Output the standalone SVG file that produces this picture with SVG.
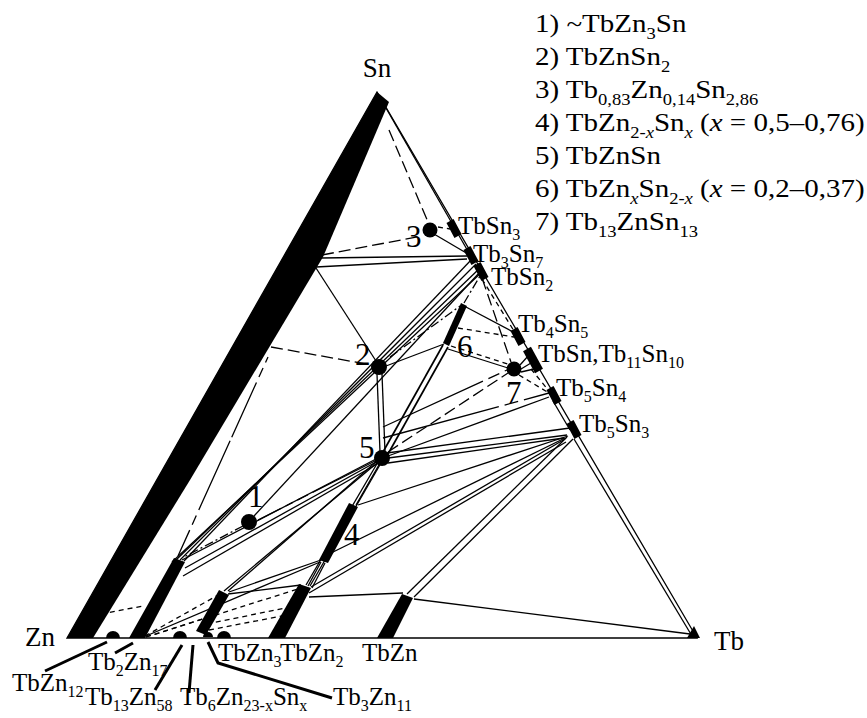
<svg xmlns="http://www.w3.org/2000/svg" width="867" height="718" viewBox="0 0 867 718" font-family="Liberation Serif, serif">
<style>
.l{stroke:#000;stroke-width:1.3;fill:none}
.w{stroke-width:1.7}
.d{stroke-dasharray:12 5}
.s{stroke-dasharray:5 4}
.dc{stroke-dasharray:9 3 2 3}
.k{stroke:#000;stroke-width:3;fill:none}
.m{stroke:#000;stroke-width:8;stroke-linecap:butt}
.b{fill:#000}
.lab{font-size:25px;font-family:Liberation Serif, serif}
.num{font-size:31px;font-family:Liberation Serif, serif}
.sub{font-size:16px}
</style>
<rect width="867" height="718" fill="#fff"/>

<g id="frame">
<polygon class="l" points="67,638 697,638 377,92"/>
<line class="l" x1="386" y1="108" x2="469" y2="253"/>
<line class="l" x1="574" y1="439" x2="692" y2="636"/>
<line class="l" x1="553" y1="401" x2="570" y2="430"/>
<line class="l s" x1="482" y1="279" x2="514" y2="331"/>
<line class="l s" x1="531" y1="369" x2="549" y2="391"/>
</g>

<g id="bands">
<polygon class="b" points="377,92 389,102 323,257 190,480 93,638 67,638"/>
<polygon class="b" points="129,638 145,638 185,562 174,558"/>
<polygon class="b" points="196,631 206,635 229,595 219,590"/>
<polygon class="b" points="268,638 285,638 311,588 299,584"/>
<polygon class="b" points="319,560 328,563 358,507 349,503"/>
<polygon class="b" points="377,638 393,638 413,598 402,594"/>
<polygon class="b" points="443,343 449,346 467,306 461,303"/>
</g>

<g id="connectors">
<line class="l d" x1="389" y1="130" x2="428" y2="222"/>
<line class="l s" x1="438" y1="227" x2="450" y2="229"/>
<line class="l" x1="434" y1="234" x2="468" y2="254"/>
<line class="l d" x1="322" y1="255" x2="422" y2="236"/>
<line class="l" x1="321" y1="258" x2="467" y2="256"/>
<line class="l" x1="316" y1="267" x2="467" y2="259"/>
<line class="l" x1="316" y1="268" x2="376" y2="361"/>
<line class="l d" x1="271" y1="347" x2="372" y2="365"/>
<line class="l" style="stroke-dasharray:6 6 10 6 60 4 70 0" x1="268" y1="357" x2="178" y2="556"/>
<line class="l" x1="172" y1="562" x2="483" y2="271"/>
<line class="l" x1="176" y1="560" x2="480" y2="268"/>
<line class="l" x1="180" y1="560" x2="476" y2="264"/>
<line class="l" x1="184" y1="561" x2="472" y2="259"/>
<line class="l" x1="254" y1="516" x2="480" y2="272"/>
<line class="l dc" x1="390" y1="357" x2="460" y2="306"/>
<line class="l dc" x1="464" y1="303" x2="480" y2="276"/>
<line class="l" x1="386" y1="366" x2="444" y2="344"/>
<line class="l" x1="377" y1="374" x2="380" y2="452"/>
<line class="l" x1="382" y1="374" x2="385" y2="452"/>
<line class="l w" x1="383" y1="452" x2="443" y2="345"/>
<line class="l w" x1="388" y1="454" x2="448" y2="347"/>
<line class="l" x1="466" y1="307" x2="515" y2="333"/>
<line class="l s" x1="458" y1="328" x2="514" y2="337"/>
<line class="l s" x1="451" y1="346" x2="508" y2="364"/>
<line class="l" x1="448" y1="349" x2="508" y2="368"/>
<line class="l d" x1="482" y1="278" x2="511" y2="362"/>
<line class="l" x1="520" y1="365" x2="529" y2="355"/>
<line class="l" x1="521" y1="369" x2="531" y2="363"/>
<line class="l" x1="521" y1="372" x2="534" y2="369"/>
<line class="l s" x1="519" y1="375" x2="549" y2="393"/>
<line class="l d" x1="388" y1="452" x2="508" y2="373"/>
<line class="l" style="stroke-dasharray:110 6 12 6 40 0" x1="383" y1="427" x2="507" y2="370"/>
<line class="l" style="stroke-dasharray:120 6 14 6 40 0" x1="383" y1="438" x2="549" y2="393"/>
<line class="l" x1="388" y1="456" x2="549" y2="397"/>
<line class="l" x1="387" y1="453" x2="570" y2="428"/>
<line class="l" x1="388" y1="458" x2="567" y2="435"/>
<line class="l" x1="388" y1="463" x2="564" y2="438"/>
<line class="l" x1="380" y1="463" x2="356" y2="505"/>
<line class="l" x1="378" y1="462" x2="306" y2="585"/>
<line class="l" x1="381" y1="463" x2="310" y2="586"/>
<line class="l" x1="377" y1="461" x2="228" y2="591"/>
<line class="l" x1="377" y1="463" x2="224" y2="591"/>
<line class="l" x1="376" y1="459" x2="182" y2="560"/>
<line class="l" x1="376" y1="462" x2="185" y2="568"/>
<line class="l" x1="377" y1="464" x2="183" y2="576"/>
<line class="l" style="stroke-dasharray:70 5 12 5 8 5 30 0" x1="375" y1="461" x2="258" y2="520"/>
<line class="l dc" x1="243" y1="526" x2="184" y2="557"/>
<line class="l" x1="568" y1="436" x2="358" y2="505"/>
<line class="l" x1="565" y1="438" x2="329" y2="554"/>
<line class="l" x1="565" y1="439" x2="311" y2="587"/>
<line class="l" x1="566" y1="442" x2="309" y2="593"/>
<line class="l" x1="567" y1="437" x2="407" y2="594"/>
<line class="l" x1="573" y1="439" x2="414" y2="597"/>
<line class="l" x1="414" y1="599" x2="690" y2="634"/>
<line class="l" x1="309" y1="597" x2="403" y2="593"/>
<line class="l" x1="308" y1="586" x2="321" y2="562"/>
<line class="l" x1="312" y1="588" x2="325" y2="563"/>
<line class="l" x1="229" y1="592" x2="321" y2="560"/>
<line class="l" x1="228" y1="594" x2="301" y2="585"/>
<line class="l s" x1="101" y1="614" x2="143" y2="606"/>
<line class="l s" x1="145" y1="636" x2="220" y2="594"/>
<line class="l s" x1="146" y1="637" x2="301" y2="588"/>
<line class="l" x1="146" y1="636" x2="320" y2="562"/>
<line class="l s" x1="146" y1="637" x2="203" y2="619"/>
<line class="l s" x1="207" y1="624" x2="290" y2="607"/>
<line class="l s" x1="209" y1="630" x2="287" y2="615"/>
<line class="k" x1="45" y1="671" x2="107" y2="642"/>
<line class="k" x1="115" y1="653" x2="133" y2="643"/>
<line class="k" x1="155" y1="690" x2="182" y2="645"/>
<line class="k" x1="189" y1="693" x2="193" y2="645"/>
<polyline class="k" points="208,642 218,663 332,698"/>
</g>

<g id="points">
<circle class="b" cx="249" cy="522" r="8"/>
<circle class="b" cx="379" cy="367" r="8"/>
<circle class="b" cx="430" cy="230" r="7.5"/>
<circle class="b" cx="382" cy="458" r="8"/>
<circle class="b" cx="514" cy="369" r="7.5"/>
<path class="b" d="M106,638 A7,7 0 0 1 120,638 Z"/>
<path class="b" d="M173,638 A7,7 0 0 1 187,638 Z"/>
<path class="b" d="M203,637 A5,5 0 0 1 213,637 Z"/>
<path class="b" d="M217,638 A7,7 0 0 1 231,638 Z"/>
<line class="m" x1="450" y1="221" x2="458" y2="236"/>
<line class="m" x1="467" y1="248" x2="475" y2="263"/>
<line class="m" x1="477" y1="264" x2="485" y2="279"/>
<line class="m" x1="514" y1="329" x2="522" y2="344"/>
<line class="m" style="stroke-width:9" x1="527" y1="349" x2="539" y2="371"/>
<line class="m" x1="550" y1="388" x2="558" y2="403"/>
<line class="m" x1="570" y1="422" x2="578" y2="437"/>
<polygon class="b" points="687,638 700,638 694,626"/>
</g>

<g id="labels">
<text class="lab" x="377" y="77" text-anchor="middle" style="font-size:27px">Sn</text>
<text class="lab" x="25" y="646" style="font-size:27px">Zn</text>
<text class="lab" x="714" y="650" style="font-size:27px">Tb</text>
<text class="num" x="406" y="247">3</text>
<text class="num" x="355" y="365">2</text>
<text class="num" x="457" y="357">6</text>
<text class="num" x="506" y="403">7</text>
<text class="num" x="359" y="458">5</text>
<text class="num" x="248" y="507">1</text>
<text class="num" x="344" y="545">4</text>
<text class="lab" x="458" y="234">TbSn<tspan class="sub" dy="6">3</tspan></text>
<text class="lab" x="473" y="262">Tb<tspan class="sub" dy="6">3</tspan><tspan dy="-6">Sn</tspan><tspan class="sub" dy="6">7</tspan></text>
<text class="lab" x="491" y="285">TbSn<tspan class="sub" dy="6">2</tspan></text>
<text class="lab" x="518" y="332">Tb<tspan class="sub" dy="6">4</tspan><tspan dy="-6">Sn</tspan><tspan class="sub" dy="6">5</tspan></text>
<text class="lab" x="538" y="362">TbSn,Tb<tspan class="sub" dy="6">11</tspan><tspan dy="-6">Sn</tspan><tspan class="sub" dy="6">10</tspan></text>
<text class="lab" x="556" y="396">Tb<tspan class="sub" dy="6">5</tspan><tspan dy="-6">Sn</tspan><tspan class="sub" dy="6">4</tspan></text>
<text class="lab" x="579" y="432">Tb<tspan class="sub" dy="6">5</tspan><tspan dy="-6">Sn</tspan><tspan class="sub" dy="6">3</tspan></text>
<text class="lab" x="218" y="661">TbZn<tspan class="sub" dy="6">3</tspan></text>
<text class="lab" x="280" y="661">TbZn<tspan class="sub" dy="6">2</tspan></text>
<text class="lab" x="362" y="661">TbZn</text>
<text class="lab" x="88" y="670">Tb<tspan class="sub" dy="6">2</tspan><tspan dy="-6">Zn</tspan><tspan class="sub" dy="6">17</tspan></text>
<text class="lab" x="12" y="691">TbZn<tspan class="sub" dy="6">12</tspan></text>
<text class="lab" x="85" y="705">Tb<tspan class="sub" dy="6">13</tspan><tspan dy="-6">Zn</tspan><tspan class="sub" dy="6">58</tspan></text>
<text class="lab" x="180" y="705">Tb<tspan class="sub" dy="6">6</tspan><tspan dy="-6">Zn</tspan><tspan class="sub" dy="6">23-x</tspan><tspan dy="-6">Sn</tspan><tspan class="sub" dy="6">x</tspan></text>
<text class="lab" x="333" y="705">Tb<tspan class="sub" dy="6">3</tspan><tspan dy="-6">Zn</tspan><tspan class="sub" dy="6">11</tspan></text>
</g>

<g id="legend" transform="translate(535,0) scale(1.16,1)">
<text class="lab" x="0" y="32">1) ~TbZn<tspan class="sub" dy="7">3</tspan><tspan dy="-7">Sn</tspan></text>
<text class="lab" x="0" y="65">2) TbZnSn<tspan class="sub" dy="7">2</tspan></text>
<text class="lab" x="0" y="98">3) Tb<tspan class="sub" dy="7">0,83</tspan><tspan dy="-7">Zn</tspan><tspan class="sub" dy="7">0,14</tspan><tspan dy="-7">Sn</tspan><tspan class="sub" dy="7">2,86</tspan></text>
<text class="lab" x="0" y="131">4) TbZn<tspan class="sub" dy="7">2-<tspan font-style="italic">x</tspan></tspan><tspan dy="-7">Sn</tspan><tspan class="sub" dy="7" font-style="italic">x</tspan><tspan dy="-7"> (<tspan font-style="italic">x</tspan> = 0,5–0,76)</tspan></text>
<text class="lab" x="0" y="164">5) TbZnSn</text>
<text class="lab" x="0" y="197">6) TbZn<tspan class="sub" dy="7" font-style="italic">x</tspan><tspan dy="-7">Sn</tspan><tspan class="sub" dy="7">2-<tspan font-style="italic">x</tspan></tspan><tspan dy="-7"> (<tspan font-style="italic">x</tspan> = 0,2–0,37)</tspan></text>
<text class="lab" x="0" y="230">7) Tb<tspan class="sub" dy="7">13</tspan><tspan dy="-7">ZnSn</tspan><tspan class="sub" dy="7">13</tspan></text>
</g>
</svg>
